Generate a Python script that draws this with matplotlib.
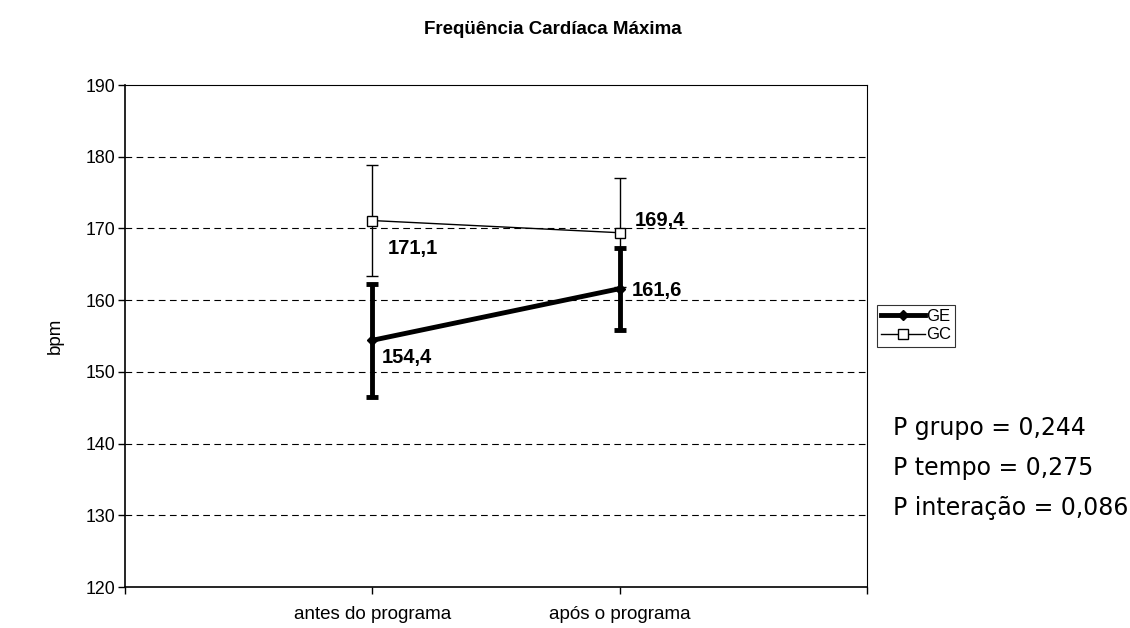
import matplotlib
matplotlib.use('Agg')
import matplotlib.pyplot as plt
from matplotlib.lines import Line2D

categories = ['antes do programa', 'após o programa']
ge_values = [154.4, 161.6]
ge_err = [7.9, 5.7]
gc_values = [171.1, 169.4]
gc_err = [7.8, 7.6]
ge_labels = ['154,4', '161,6']
gc_labels = ['171,1', '169,4']
p_texts = ['P grupo = 0,244', 'P tempo = 0,275', 'P interação = 0,086']

plt.rcParams['font.family'] = ['Liberation Sans', 'DejaVu Sans']

fig = plt.figure(figsize=(11.3, 6.28), dpi=100)
ax = fig.add_axes([125 / 1130, 1 - 587 / 628, (867 - 125) / 1130, (587 - 85) / 628])

x = [1, 2]
ax.errorbar(x, gc_values, yerr=gc_err, color='black', lw=1, capsize=4,
            elinewidth=1, capthick=1, marker='s', markersize=7,
            markerfacecolor='white', markeredgecolor='black',
            markeredgewidth=1, zorder=3)
ax.errorbar(x, ge_values, yerr=ge_err, color='black', lw=3.5, capsize=4,
            elinewidth=3.5, capthick=3.5, marker='D', markersize=5,
            zorder=4)

# data labels
lab = dict(textcoords='offset points', fontsize=14.5, fontweight='bold')
ax.annotate(gc_labels[0], (x[0], gc_values[0]), xytext=(11, -24), **lab)
ax.annotate(gc_labels[1], (x[1], gc_values[1]), xytext=(11, 5), **lab)
ax.annotate(ge_labels[0], (x[0], ge_values[0]), xytext=(7, -16), **lab)
ax.annotate(ge_labels[1], (x[1], ge_values[1]), xytext=(9, -5), **lab)

ax.set_xlim(0, 3)
ax.set_ylim(120, 190)
ax.set_yticks(range(120, 191, 10))
ax.set_xticks([0, 1, 2, 3])
ax.set_xticklabels(['', categories[0], categories[1], ''])
ax.tick_params(axis='both', direction='out', length=5, width=1)
ax.tick_params(axis='x', pad=9, labelsize=13.5)
ax.tick_params(axis='y', pad=2, labelsize=12.8)
for y in range(130, 190, 10):
    ax.axhline(y, color='black', lw=0.8, ls=(0, (6, 4)), zorder=1)
for s in ax.spines.values():
    s.set_linewidth(0.8)
ax.spines['left'].set_linewidth(1.2)
ax.spines['bottom'].set_linewidth(1.2)

ax.set_ylabel('bpm', fontsize=13.5, labelpad=16)
fig.text(553 / 1130, 1 - 30 / 628, 'Freqüência Cardíaca Máxima', fontsize=13.5,
         fontweight='bold', ha='center', va='center')

handles = [
    Line2D([], [], color='black', lw=3.5, marker='D', markersize=5),
    Line2D([], [], color='black', lw=1, marker='s', markersize=7,
           markerfacecolor='white'),
]
leg = fig.legend(handles, ['GE', 'GC'], loc='upper left',
                 bbox_to_anchor=(877 / 1130, 1 - 305 / 628), fontsize=12,
                 frameon=True, fancybox=False, edgecolor='black',
                 handlelength=2.6, handletextpad=0.1, borderpad=0.25,
                 labelspacing=0.2, borderaxespad=0)
leg.get_frame().set_linewidth(0.8)

for i, t in enumerate(p_texts):
    fig.text(893 / 1130, 1 - (428 + i * 40) / 628, t, fontsize=17,
             family=['DejaVu Sans'], va='center')

fig.savefig('out.png', dpi=100)
